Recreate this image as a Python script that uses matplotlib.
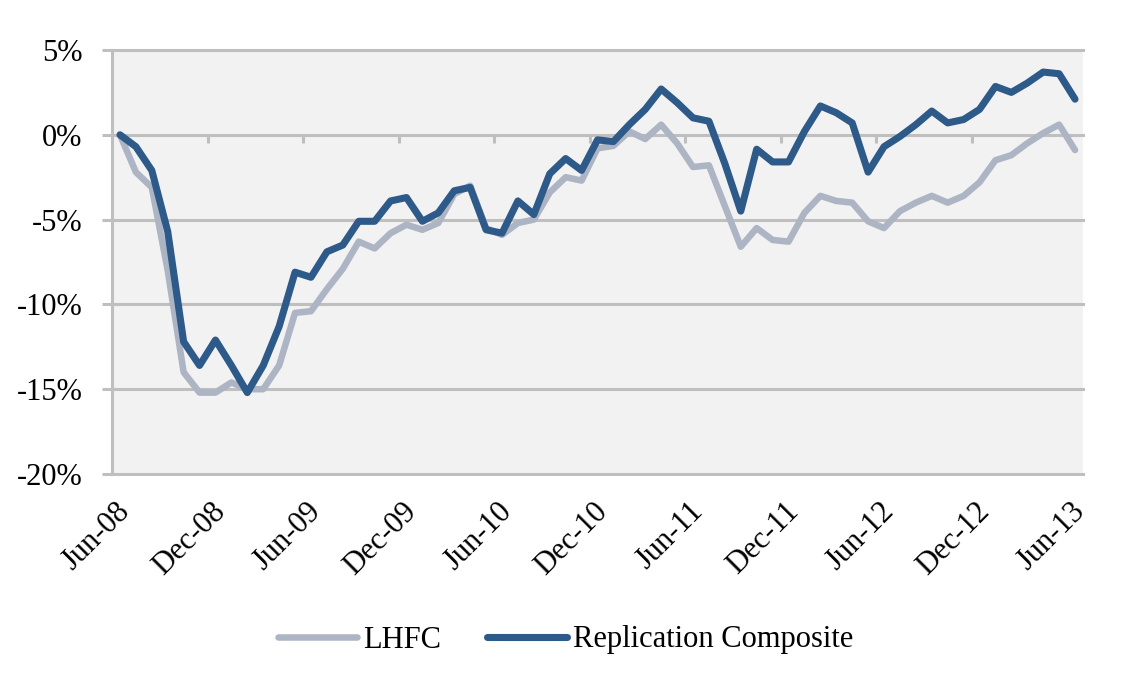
import matplotlib
matplotlib.use("Agg")
import matplotlib.pyplot as plt
from matplotlib.transforms import ScaledTranslation
import numpy as np

plt.rcParams['font.family'] = ['Liberation Serif', 'DejaVu Serif']

# ---- data (monthly, Jun-08 .. Jun-13), values in % ----
lhfc = [0.0, -2.2, -3.1, -8.0, -14.0, -15.2, -15.2, -14.6, -15.0, -15.0,
        -13.6, -10.5, -10.4, -9.1, -7.9, -6.3, -6.7, -5.8, -5.3, -5.6,
        -5.2, -3.5, -3.0, -5.5, -5.9, -5.2, -5.0, -3.4, -2.5, -2.7,
        -0.8, -0.65, 0.2, -0.25, 0.6, -0.5, -1.9, -1.8, -4.2, -6.6,
        -5.5, -6.2, -6.3, -4.6, -3.6, -3.9, -4.0, -5.1, -5.5, -4.5,
        -4.0, -3.6, -4.0, -3.6, -2.8, -1.5, -1.2, -0.5, 0.1, 0.6, -0.9]
replication = [0.0, -0.7, -2.1, -5.7, -12.2, -13.6, -12.1, -13.6, -15.2, -13.6,
               -11.3, -8.1, -8.4, -6.9, -6.5, -5.1, -5.1, -3.9, -3.7, -5.1,
               -4.6, -3.3, -3.1, -5.6, -5.8, -3.9, -4.7, -2.3, -1.4, -2.1,
               -0.3, -0.4, 0.6, 1.5, 2.7, 1.9, 1.0, 0.8, -1.7, -4.5,
               -0.85, -1.6, -1.6, 0.2, 1.7, 1.3, 0.7, -2.2, -0.7, -0.1,
               0.6, 1.4, 0.7, 0.9, 1.5, 2.85, 2.5, 3.05, 3.7, 3.6, 2.1]
tick_labels = ['Jun-08', 'Dec-08', 'Jun-09', 'Dec-09', 'Jun-10', 'Dec-10',
               'Jun-11', 'Dec-11', 'Jun-12', 'Dec-12', 'Jun-13']
y_ticks = [5, 0, -5, -10, -15, -20]
series_names = ['LHFC', 'Replication Composite']

# ---- style ----
grid_c = '#BFBFBF'
gray_c = '#ADB5C4'
blue_c = '#2D5A88'
fs = 22

fig = plt.figure(figsize=(11.31, 6.86), dpi=100)
ax = fig.add_axes([112/1131, 1 - 474/686, (1083 - 112)/1131, (474 - 50)/686])
ax.set_facecolor('#F2F2F2')

x = np.arange(len(lhfc))
ax.plot(x, lhfc, color=gray_c, lw=4.7, solid_joinstyle='round',
        solid_capstyle='round', label=series_names[0], zorder=3)
ax.plot(x, replication, color=blue_c, lw=5.1, solid_joinstyle='round',
        solid_capstyle='round', label=series_names[1], zorder=4)

ax.set_xlim(-0.5, len(lhfc) - 0.5)
ax.set_ylim(min(y_ticks), max(y_ticks))

# y axis
ax.set_yticks(y_ticks)
ax.set_yticklabels([f'{v}%' for v in y_ticks], fontsize=fs)
ax.tick_params(axis='y', length=7.2, width=2.2, color=grid_c, pad=14)
ax.yaxis.grid(True, color=grid_c, lw=2.2, zorder=1)
for gl in ax.get_ygridlines():
    gl.set_clip_on(False)
ax.set_axisbelow(True)

# x axis labels
ax.set_xticks(np.arange(0, len(lhfc), 6))
ax.set_xticklabels(tick_labels, fontsize=fs, rotation=45, ha='right',
                   va='center', rotation_mode='anchor')
ax.tick_params(axis='x', length=0, pad=24)
offset = ScaledTranslation(6/100, 0, fig.dpi_scale_trans)
for lab in ax.get_xticklabels():
    lab.set_transform(lab.get_transform() + offset)

for s in ['top', 'right', 'bottom']:
    ax.spines[s].set_visible(False)
ax.spines['left'].set_color(grid_c)
ax.spines['left'].set_linewidth(2.2)

# category tick marks on the 0% line
secax = ax.secondary_xaxis((0 - min(y_ticks)) / (max(y_ticks) - min(y_ticks)))
secax.set_xticks(np.arange(5.5, 54, 6))
secax.set_xticklabels([])
secax.tick_params(axis='x', direction='in', length=5.5, width=2.2, color=grid_c)
for s in secax.spines.values():
    s.set_visible(False)

fig.legend(loc='center', bbox_to_anchor=(0.5, 1 - 640/686), ncol=2,
           frameon=False, fontsize=fs, handlelength=2.6, handletextpad=0.2,
           columnspacing=1.5)

fig.savefig('out.png', dpi=100)
